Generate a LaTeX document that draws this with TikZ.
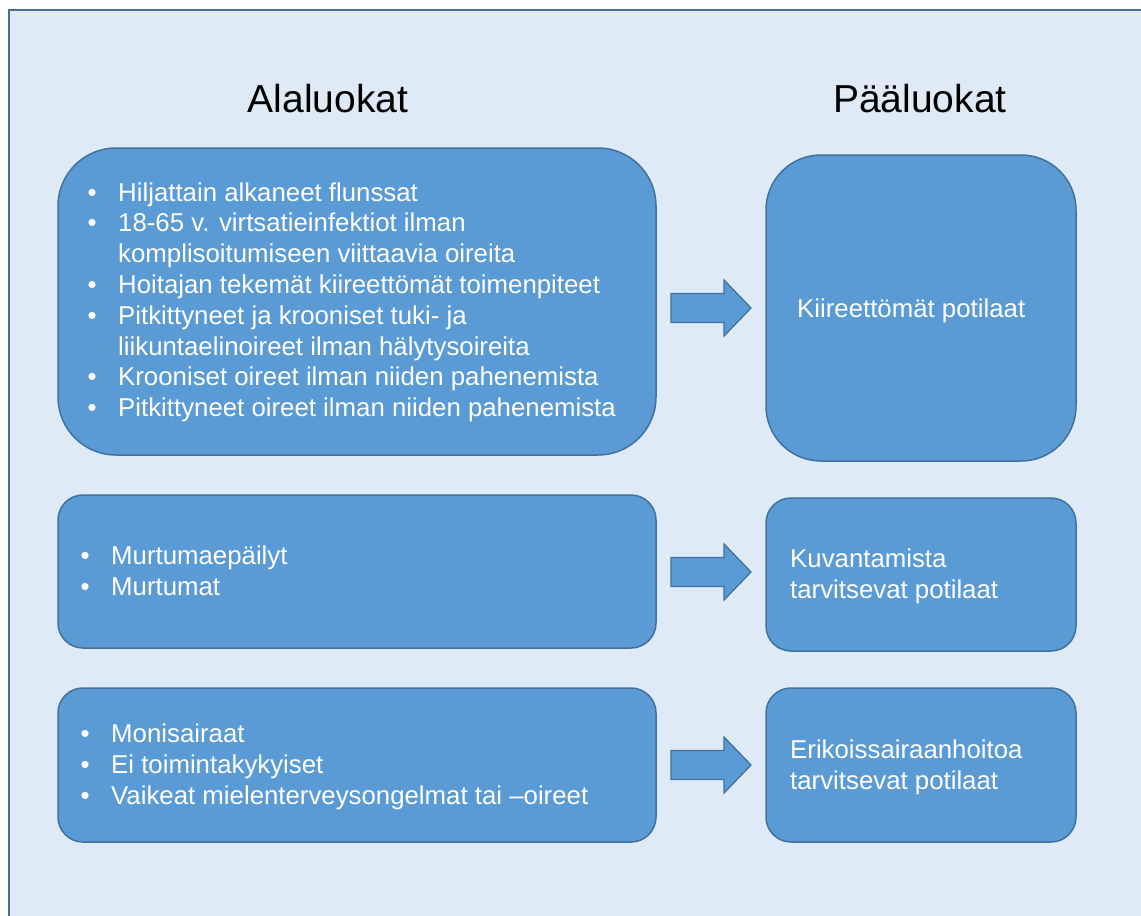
\documentclass[tikz,border=0pt]{standalone}
\usepackage{fontspec}
\setmainfont{Liberation Sans}
\definecolor{bgblue}{HTML}{DEEAF6}
\definecolor{boxfill}{HTML}{5B9BD5}
\definecolor{boxedge}{HTML}{41719C}
\newcommand\bul{\makebox[30.5pt][l]{•}}
\newcommand\blockarrow[1]{%
  \path[blockarr] (671,{#1-14.5}) -- (724,{#1-14.5}) -- (724,{#1-28}) -- (751,#1)
    -- (724,{#1+28}) -- (724,{#1+14.5}) -- (671,{#1+14.5}) -- cycle;}
\begin{document}
\begin{tikzpicture}[x=1pt,y=-1pt,
  box/.style={draw=boxedge, line width=1.5pt, fill=boxfill, inner sep=0pt},
  blockarr/.style={draw=boxedge, line width=1.3pt, fill=boxfill, line join=miter},
  txt/.style={anchor=base west, text=white, inner sep=0pt, font=\fontsize{25.8}{30}\selectfont},
  title/.style={anchor=base, text=black, inner sep=0pt, font=\fontsize{39}{45}\selectfont}]
\clip (0,0) rectangle (1141,916);
\fill[white] (0,0) rectangle (1141,916);
\draw[draw=boxedge, line width=2pt, fill=bgblue] (9,10) rectangle (1160,940);

\node[title] (t1) at (328,112) {Alaluokat};
\node[title] (t2) at (920,112) {Pääluokat};

% boxes
\node[box, rounded corners=58pt, minimum width=598pt, minimum height=307pt] (b1) at (357,301.5) {};
\node[box, rounded corners=55pt, minimum width=310pt, minimum height=306pt] (b2) at (921,308) {};
\node[box, rounded corners=25pt, minimum width=598pt, minimum height=153pt] (b3) at (357,571.5) {};
\node[box, rounded corners=25pt, minimum width=310pt, minimum height=153pt] (b4) at (921,574.5) {};
\node[box, rounded corners=25pt, minimum width=598pt, minimum height=154pt] (b5) at (357,765) {};
\node[box, rounded corners=25pt, minimum width=310pt, minimum height=154pt] (b6) at (921,765) {};

% arrows
\blockarrow{308}
\blockarrow{572}
\blockarrow{765}

% box 1 text
\node[txt] (l1) at (87.5,201) {\bul Hiljattain alkaneet flunssat};
\node[txt] (l2) at (87.5,231.8) {\bul 18-65 v. virtsatieinfektiot ilman};
\node[txt] (l3) at (118,262.6) {komplisoitumiseen viittaavia oireita};
\node[txt] (l4) at (87.5,293.4) {\bul Hoitajan tekemät kiireettömät toimenpiteet};
\node[txt] (l5) at (87.5,324.2) {\bul Pitkittyneet ja krooniset tuki- ja};
\node[txt] (l6) at (118,355) {liikuntaelinoireet ilman hälytysoireita};
\node[txt] (l7) at (87.5,385.8) {\bul Krooniset oireet ilman niiden pahenemista};
\node[txt] (l8) at (87.5,416.6) {\bul Pitkittyneet oireet ilman niiden pahenemista};

% box 2 text
\node[txt] (r1) at (797,317) {Kiireettömät potilaat};

% box 3 text
\node[txt] (m1) at (80.5,564) {\bul Murtumaepäilyt};
\node[txt] (m2) at (80.5,595) {\bul Murtumat};

% box 4 text
\node[txt] (k1) at (790,567) {Kuvantamista};
\node[txt] (k2) at (790,598) {tarvitsevat potilaat};

% box 5 text
\node[txt] (s1) at (80.5,742) {\bul Monisairaat};
\node[txt] (s2) at (80.5,773) {\bul Ei toimintakykyiset};
\node[txt] (s3) at (80.5,804) {\bul Vaikeat mielenterveysongelmat tai –oireet};

% box 6 text
\node[txt] (e1) at (790,758) {Erikoissairaanhoitoa};
\node[txt] (e2) at (790,789) {tarvitsevat potilaat};
\end{tikzpicture}
\end{document}
